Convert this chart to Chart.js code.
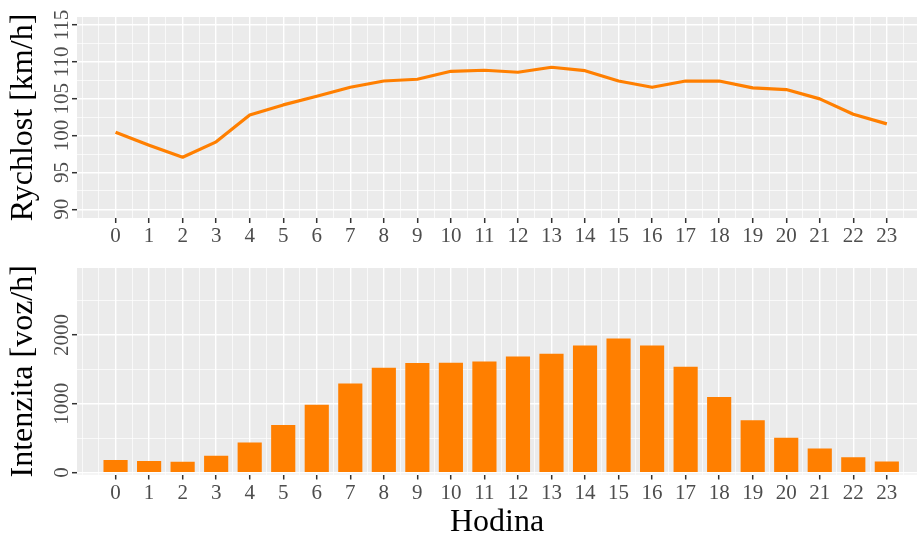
<!DOCTYPE html>
<html>
<head>
<meta charset="utf-8">
<script src="https://cdn.jsdelivr.net/npm/chart.js@4.4.0/dist/chart.umd.min.js"></script>
<style>
  html, body { margin: 0; padding: 0; background: #ffffff; }
  #wrap { position: relative; width: 917px; height: 542px; overflow: hidden; }
  #speedChart { position: absolute; left: 0; top: 0; }
  #volumeChart { position: absolute; left: 0; top: 255px; }
</style>
</head>
<body>
<div id="wrap">
  <canvas id="speedChart" width="917" height="255"></canvas>
  <canvas id="volumeChart" width="917" height="287"></canvas>
</div>
<script>
// hourly averages
const hours = [0, 1, 2, 3, 4, 5, 6, 7, 8, 9, 10, 11, 12, 13, 14, 15, 16, 17, 18, 19, 20, 21, 22, 23];
const speed = [100.45, 98.7, 97.06, 99.15, 102.8, 104.16, 105.33, 106.55, 107.4, 107.64, 108.72, 108.86,
               108.59, 109.27, 108.8, 107.4, 106.55, 107.4, 107.4, 106.47, 106.24, 104.98, 102.9, 101.59];
const volume = [175, 160, 151, 239, 432, 684, 981, 1291, 1520, 1587, 1592, 1611,
                1684, 1723, 1844, 1946, 1844, 1534, 1092, 753, 501, 345, 218, 156];
const speedTicks = [90, 95, 100, 105, 110, 115];
const volumeTicks = [0, 1000, 2000];

const ORANGE = '#FF7F00';
const SERIF = "'Liberation Serif', 'Times New Roman', serif";

// major breaks plus the half-way minor breaks inside [lo, hi]
function breaksWithMinor(major, lo, hi) {
  const step = major[1] - major[0];
  const out = [];
  for (let v = major[0] - step; v <= major[major.length - 1] + step; v += step / 2) {
    if (v >= lo && v <= hi) out.push(v);
  }
  return out;
}

const panelBg = {
  id: 'panelBg',
  beforeDraw(chart) {
    const a = chart.chartArea;
    const ctx = chart.ctx;
    ctx.save();
    ctx.fillStyle = '#EBEBEB';
    ctx.fillRect(a.left, a.top, a.right - a.left, a.bottom - a.top);
    ctx.restore();
  }
};

// rotated y tick labels, reading bottom to top
const yLabels = {
  id: 'yLabels',
  afterDraw(chart, args, opts) {
    const s = chart.scales.y;
    const ctx = chart.ctx;
    ctx.save();
    ctx.fillStyle = '#4D4D4D';
    ctx.font = '21px ' + SERIF;
    ctx.textAlign = 'center';
    ctx.textBaseline = 'alphabetic';
    opts.values.forEach(v => {
      ctx.save();
      ctx.translate(68, s.getPixelForValue(v));
      ctx.rotate(-Math.PI / 2);
      ctx.fillText(String(v), 0, 0);
      ctx.restore();
    });
    ctx.restore();
  }
};

function isMajor(v, major) {
  return major.some(m => Math.abs(m - v) < 1e-9);
}

function xScale(height, withTitle) {
  return {
    type: 'linear',
    min: -1.15,
    max: 23.9,
    offset: false,
    afterBuildTicks: s => {
      s.ticks = breaksWithMinor(hours, -1.15, 23.9).map(v => ({ value: v }));
    },
    afterFit: s => { s.height = height; },
    border: { display: false },
    grid: {
      offset: false,
      color: '#FFFFFF',
      lineWidth: c => isMajor(c.tick.value, hours) ? 1.4 : 0.7,
      tickColor: c => isMajor(c.tick.value, hours) ? '#333333' : 'rgba(0,0,0,0)',
      tickWidth: 1.5,
      tickLength: 5
    },
    ticks: {
      autoSkip: false,
      maxRotation: 0,
      minRotation: 0,
      padding: 1,
      color: '#4D4D4D',
      font: { family: SERIF, size: 21 },
      callback: v => hours.includes(v) ? String(v) : ''
    },
    title: {
      display: withTitle,
      text: 'Hodina',
      color: '#000000',
      font: { family: SERIF, size: 32 },
      padding: { top: 0, bottom: 0 }
    }
  };
}

function yScale(min, max, major, title) {
  return {
    type: 'linear',
    min: min,
    max: max,
    afterBuildTicks: s => {
      s.ticks = breaksWithMinor(major, min, max).map(v => ({ value: v }));
    },
    afterFit: s => { s.width = 77; },
    border: { display: false },
    grid: {
      color: '#FFFFFF',
      lineWidth: c => isMajor(c.tick.value, major) ? 1.4 : 0.7,
      tickColor: c => isMajor(c.tick.value, major) ? '#333333' : 'rgba(0,0,0,0)',
      tickWidth: 1.5,
      tickLength: 5
    },
    ticks: { display: false },
    title: {
      display: true,
      text: title,
      color: '#000000',
      font: { family: SERIF, size: 32 },
      padding: { top: 4, bottom: 0 }
    }
  };
}

const common = {
  responsive: false,
  animation: false,
  devicePixelRatio: 1,
  plugins: { legend: { display: false }, tooltip: { enabled: false } }
};

new Chart(document.getElementById('speedChart'), {
  type: 'line',
  data: {
    datasets: [{
      data: hours.map((h, i) => ({ x: h, y: speed[i] })),
      borderColor: ORANGE,
      borderWidth: 3.2,
      borderJoinStyle: 'round',
      pointRadius: 0,
      tension: 0
    }]
  },
  options: {
    ...common,
    layout: { padding: { top: 17, left: 0, right: 0, bottom: 0 } },
    scales: {
      x: xScale(37, false),
      y: yScale(88.82, 116.085, speedTicks, 'Rychlost [km/h]')
    },
    plugins: { ...common.plugins, yLabels: { values: speedTicks } }
  },
  plugins: [panelBg, yLabels]
});

new Chart(document.getElementById('volumeChart'), {
  type: 'bar',
  data: {
    datasets: [{
      data: hours.map((h, i) => ({ x: h, y: volume[i] })),
      backgroundColor: ORANGE,
      borderWidth: 0,
      barThickness: 23.5
    }]
  },
  options: {
    ...common,
    layout: { padding: { top: 13, left: 0, right: 0, bottom: 0 } },
    scales: {
      x: xScale(67.5, true),
      y: yScale(-30, 2975, volumeTicks, 'Intenzita [voz/h]')
    },
    plugins: { ...common.plugins, yLabels: { values: volumeTicks } }
  },
  plugins: [panelBg, yLabels]
});
</script>
</body>
</html>
